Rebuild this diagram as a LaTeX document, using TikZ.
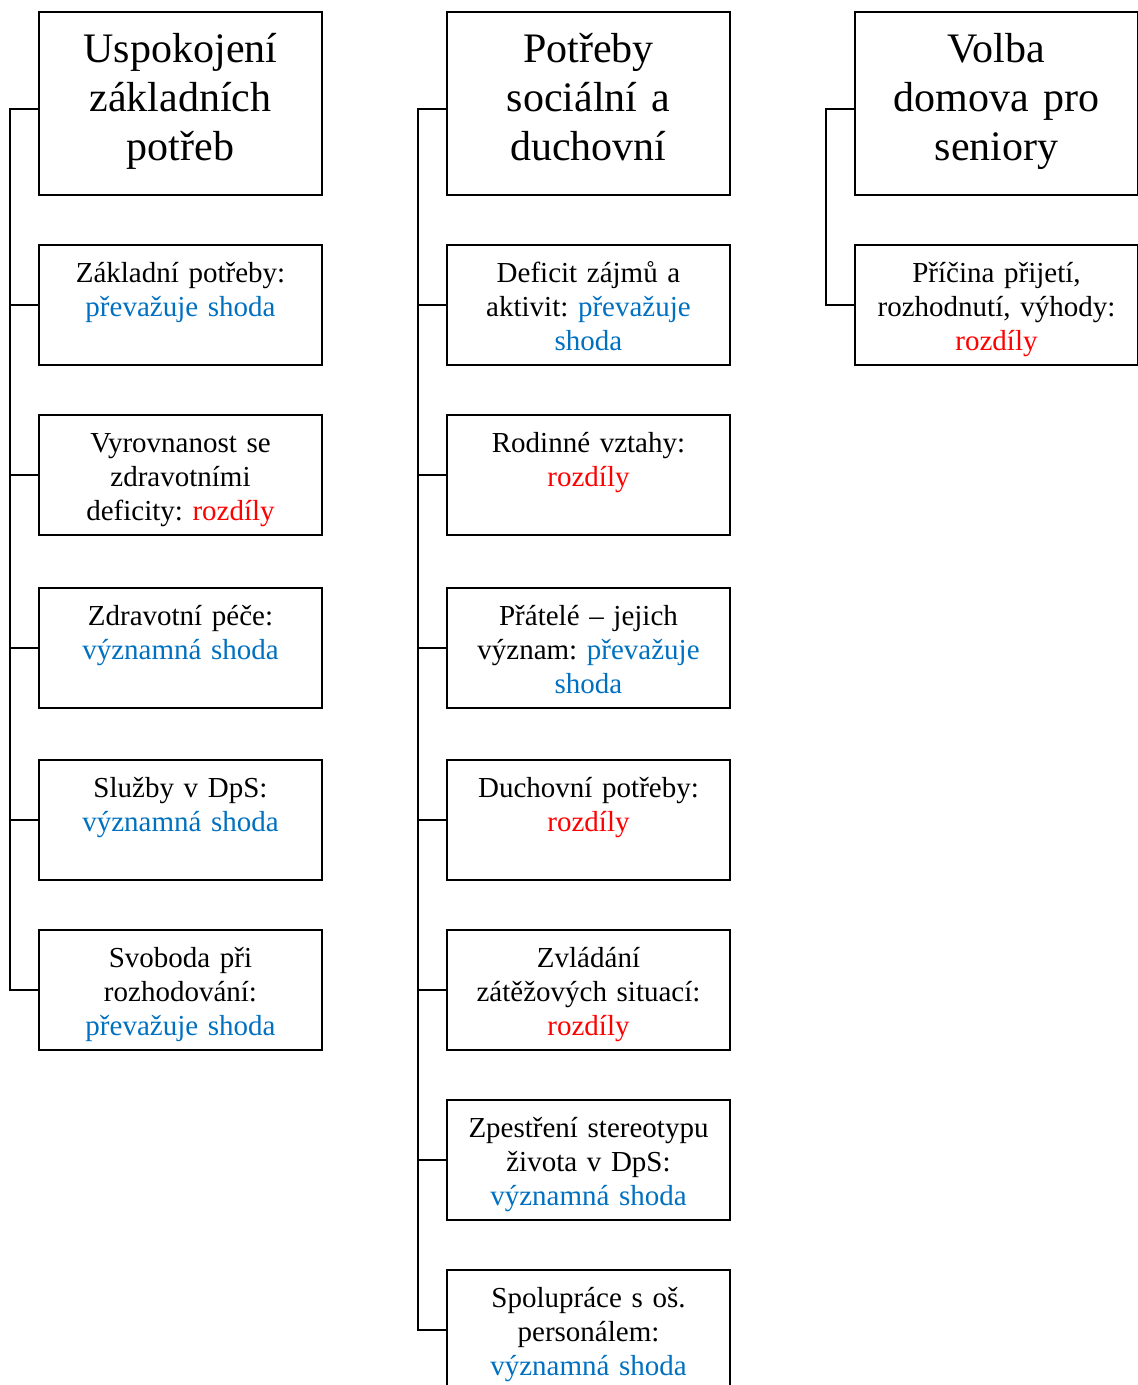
\documentclass[tikz,border=0pt]{standalone}
\usepackage{fontspec}
\setmainfont{Liberation Serif}
\frenchspacing
\usetikzlibrary{positioning}
\definecolor{shodablue}{HTML}{0070C0}
\definecolor{rozdilred}{HTML}{FF0000}
\newcommand{\shd}[1]{\textcolor{shodablue}{#1}}
\newcommand{\rzd}[1]{\textcolor{rozdilred}{#1}}

\begin{document}
\begin{tikzpicture}[x=1pt, y=-1pt,
        headbox/.style={draw, line width=1.6pt, inner sep=0pt, outer sep=0pt, text width=283pt, align=center,
            font=\fontsize{42}{49}\selectfont, text height=50pt, text depth=133pt},
        itembox/.style={draw, line width=1.6pt, inner sep=0pt, outer sep=0pt, text width=283pt, align=center,
            font=\fontsize{29}{34}\selectfont, text height=37.5pt, text depth=82.5pt},
        conn/.style={line width=1.6pt},
        node distance=50pt]
            \useasboundingbox (0,0) rectangle (1138,1385);
            % first column
            \node[headbox, anchor=north west] (u0) at (39,12) {Uspokojení\\základních\\potřeb};
            \node[itembox, below=of u0] (u1) {Základní potřeby:\\\shd{převažuje shoda}};
            \node[itembox, below=of u1] (u2) {Vyrovnanost se\\zdravotními\\deficity: \rzd{rozdíly}};
            \node[itembox, below=53pt of u2] (u3) {Zdravotní péče:\\\shd{významná shoda}};
            \node[itembox, below=52pt of u3] (u4) {Služby v DpS:\\\shd{významná shoda}};
            \node[itembox, below=of u4] (u5) {Svoboda při\\rozhodování:\\\shd{převažuje shoda}};
            % second column
            \node[headbox, anchor=north west] (p0) at (447,12) {Potřeby\\sociální a\\duchovní};
            \node[itembox, below=of p0] (p1) {Deficit zájmů a\\aktivit: \shd{převažuje}\\\shd{shoda}};
            \node[itembox, below=of p1] (p2) {Rodinné vztahy:\\\rzd{rozdíly}};
            \node[itembox, below=53pt of p2] (p3) {Přátelé – jejich\\význam: \shd{převažuje}\\\shd{shoda}};
            \node[itembox, below=52pt of p3] (p4) {Duchovní potřeby:\\\rzd{rozdíly}};
            \node[itembox, below=of p4] (p5) {Zvládání\\zátěžových situací:\\\rzd{rozdíly}};
            \node[itembox, below=of p5] (p6) {Zpestření stereotypu\\života v DpS:\\\shd{významná shoda}};
            \node[itembox, below=of p6] (p7) {Spolupráce s oš.\\personálem:\\\shd{významná shoda}};
            % third column
            \node[headbox, anchor=north west] (v0) at (855,12) {Volba\\domova pro\\seniory};
            \node[itembox, below=of v0] (v1) {Příčina přijetí,\\rozhodnutí, výhody:\\\rzd{rozdíly}};
            % connectors
            \coordinate (s1) at ([xshift=-29pt]u0.west);
            \coordinate (s2) at ([xshift=-29pt]p0.west);
            \coordinate (s3) at ([xshift=-29pt]v0.west);
            \draw[conn] ([yshift=-5.5pt]u0.west) -| (u5.west -| s1) -- (u5.west);
            \foreach \n in {1,...,4}
                \draw[conn] (u\n.west) -- (u\n.west -| s1);
            \draw[conn] ([yshift=-5.5pt]p0.west) -| (p7.west -| s2) -- (p7.west);
            \foreach \n in {1,...,6}
                \draw[conn] (p\n.west) -- (p\n.west -| s2);
            \draw[conn] ([yshift=-5.5pt]v0.west) -| (v1.west -| s3) -- (v1.west);
        \end{tikzpicture}
\end{document}
